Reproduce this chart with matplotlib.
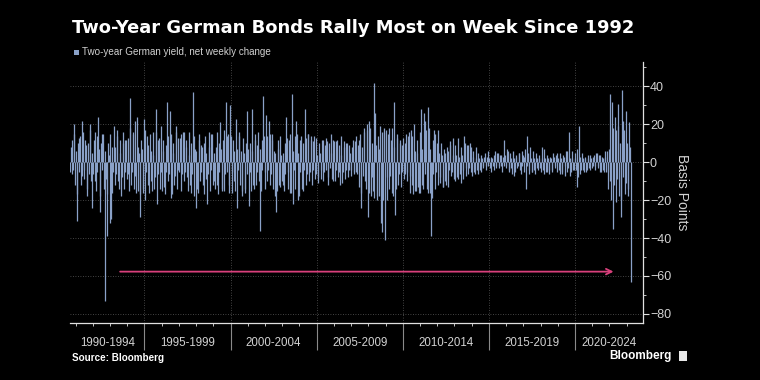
import numpy as np
import matplotlib
matplotlib.use('Agg')  # headless
import matplotlib.pyplot as plt
import matplotlib.transforms as mtransforms
from matplotlib.patches import Rectangle

# Two-year German yield, net weekly change (bp).
# Two readings per month from Sep 1990 to Mar 2023:
#   early_* = move in the first half of the month
#   late_*  = move in the second half (carries most spikes)
first_year, first_month = 1990, 9
late_1990s = [
    8, -6, 20, -12,
    -31, 10, 13, -12, 22, -9, 12, -14, 10, 20, -10, -24,
    12, -10, 14, 24, -26, 10, 15, -14, -73, -39, 10, -32,
    -30, 8, 19, -12, 14, -10, 12, -18, 10, -14, 12, -9,
    13, 34, -12, 15, -14, 22, 24, -15, -29, 12, -16, 23,
    -20, 14, -12, 15, -10, 16, -14, 28, -22, 12, -14, 19,
    12, -13, 9, 32, -10, 27, -19, 10, -12, 19, -14, 13,
    13, -15, 16, -10, 12, -8, 16, -12, 10, 37, -18, -24,
    -14, 12, -10, 9, -12, 10, -9, -22, 8, -15, 15, -12,
    -10, 8, -12, 10, 21, -14, 12, -15, 32, 14, -12, 30,
]
early_1990s = [
    -5, 12, -4, 15,
    6, -17, -5, 14, -7, 16, -4, 9, -18, -6, 17, 5,
    -6, 16, -15, -5, 7, -18, -4, 15, 6, -9, -17, 4,
    15, -16, -5, 8, -6, 17, -14, 5, -8, 16, -5, 12,
    -6, -15, 18, -5, 16, -7, -16, 8, 5, -17, 7, -14,
    17, -5, 9, -16, 6, -15, 4, -8, 16, -6, 13, -5,
    -15, 6, -17, -5, 14, -6, 15, -17, 5, -7, 16, -4,
    -5, 15, -6, 16, -5, 8, -15, 4, -16, -6, 14, 7,
    6, -16, 15, -5, 8, -17, 14, 5, -6, 16, -4, 15,
    5, -14, 16, -17, -5, 7, -15, 17, -6, -5, 15, -16,
]
late_2000s = [
    -16, 12, -10, 23, -24, 14, -12, -18, 13, -14, 10, 27,
    -23, 10, 28, -12, 12, -12, 9, -10, -36, 12, 35, -14,
    25, -10, 22, -12, 15, -14, -18, -26, 12, -12, 14, -10,
    -12, 10, 24, -14, 12, -16, 36, -22, 14, 22, -20, -18,
    12, -14, 10, 28, -12, 15, -10, 14, -12, 11, -9, 13,
    -8, 10, -9, 12, -10, 9, 13, -8, 10, 15, -9, 12,
    -10, 11, -8, 9, 14, -11, 8, -9, 10, -8, 9, -7,
    8, -6, 11, -5, 9, 12, -24, 8, 18, -10, 20, -29,
    22, -18, 10, 42, 26, -20, 14, -18, -32, -37, 16, -41,
    -20, 15, -14, 12, 18, 32, -28, 13, -12, 10, -13, 9,
]
early_2000s = [
    14, -5, 6, -15, 7, -4, 16, 6, -15, 5, -16, -6,
    7, -5, -15, 6, -14, 15, -5, 16, 7, -15, -4, 14,
    -5, 14, -4, 15, -6, 12, 6, 5, -15, 7, -13, 4,
    5, -15, -6, 13, -5, 15, -16, 6, -4, -14, 15, 5,
    -5, 14, -15, -4, 13, -6, 15, -5, 12, -4, 14, -6,
    4, -11, 5, -4, 12, -5, -4, 11, -12, -3, 5, -10,
    11, -4, 12, -5, -12, 4, -5, 11, -4, 10, -4, 5,
    -4, 12, -5, 14, -6, -13, 15, -16, -7, 16, -14, 17,
    -16, 18, -8, -15, -19, 9, -18, 7, 19, 16, -20, 18,
    17, -8, 18, -7, -16, -18, 8, -14, 15, -6, 12, -5,
]
late_2010s = [
    -9, 10, -10, 14, -16, 17, -12, 20, -15, 12, -13, 16,
    28, -12, 26, 22, -14, 29, -16, -39, 12, 17, -14, 10,
    17, -8, 10, -13, 7, -10, 8, -13, 9, -7, 13, -9,
    9, -8, 13, -6, 8, -9, 14, -7, 9, -6, 10, -5,
    6, -5, 8, -4, 5, -4, 4, -3, 3, -4, 3, -2,
    -3, 3, -2, 4, -3, 5, -3, 4, -2, 3, 12, -3,
    7, -4, 5, -3, 6, -7, 4, -3, 5, -4, 6, 4,
    -5, -14, 14, -4, 8, -5, 6, -4, 5, -3, 4, -3,
    8, -4, 7, -5, 4, -6, 3, -4, 5, -3, 4, -5,
    -4, 5, -6, 4, -7, 6, -5, 16, -7, 6, -4, 5,
]
early_2010s = [
    13, -6, 15, -5, 16, -7, 14, -17, 6, -15, 5, -16,
    -16, 7, -14, -6, 17, -16, 18, 7, -19, -6, 15, -5,
    -12, 5, -11, 4, -13, 5, -12, 6, -4, 11, -5, 4,
    -10, 4, -9, 3, -11, 4, -4, 10, -3, 9, -3, 8,
    -7, 3, -6, 2, -6, 2, -5, 2, -2, 5, -2, 6,
    2, -5, 2, -4, 6, -2, 5, -2, 4, -5, -2, 4,
    -2, 6, -5, 2, -6, 2, -5, 3, -2, 5, -6, -2,
    3, 7, -2, 5, -6, 2, -5, 2, -6, 2, -4, 2,
    -5, 2, -6, 2, -5, 2, -4, 2, -5, 3, -2, 5,
    2, -6, 2, -5, 3, -2, 6, -3, 2, -5, 2, -4,
]
late_2020s = [
    -4, -13, 19, -6, 5, -4, 3, -5, 4, -3, 4, -3,
    3, -4, 5, -3, 4, -5, 3, -4, 6, -5, -14, 7,
    36, 32, -35, 24, -21, 31, -18, -29, 38, 22, -17, 27,
    -18, 21, -63,
]
early_2020s = [
    2, 7, -8, 3, -4, 2, -5, 2, -4, 2, -4, 2,
    -2, 4, -2, 5, -2, 4, -5, 2, -5, 3, 6, -5,
    -10, -20, 18, -12, 17, -9, 19, 10, -20, -8, 17, -11,
    10, -14, 8,
]

period_labels = ['1990-1994', '1995-1999', '2000-2004', '2005-2009',
                 '2010-2014', '2015-2019', '2020-2024']
period_starts = [1990, 1995, 2000, 2005, 2010, 2015, 2020]
y_ticks = [-80, -60, -40, -20, 0, 20, 40]
arrow_from, arrow_to, arrow_level = 1993.43, 2022.4, -57.7

late = np.array(late_1990s + late_2000s + late_2010s + late_2020s, dtype=float)
early = np.array(early_1990s + early_2000s + early_2010s + early_2020s, dtype=float)
changes = np.column_stack([early, late]).ravel()
start = first_year + (first_month - 1) / 12
t = start + (np.arange(len(changes)) + 0.5) / 24

bar_color = '#8aa1c8'
grid_color = '#5a5a5a'
text_color = '#d2d2d2'
plt.rcParams['font.family'] = ['Liberation Sans', 'DejaVu Sans']

fig = plt.figure(figsize=(7.6, 3.8), dpi=100, facecolor='black')
ax = fig.add_axes([70 / 760, 1 - 323 / 380, 573 / 760, 261 / 380], facecolor='black')

ax.vlines(t, 0, changes, color=bar_color, linewidth=0.9, zorder=3)

ax.set_xlim(1990.68, 2023.95)
ax.set_ylim(-84.8, 52.9)

# axes look
for s in ['top', 'left']:
    ax.spines[s].set_visible(False)
for s in ['right', 'bottom']:
    ax.spines[s].set_color('#e0e0e0')
    ax.spines[s].set_linewidth(0.9)

ax.yaxis.tick_right()
ax.yaxis.set_label_position('right')
ax.set_yticks(y_ticks)
ax.set_yticks(np.arange(-80, 51, 10), minor=True)
ax.tick_params(axis='y', which='major', colors='#e0e0e0', labelcolor=text_color,
               labelsize=9, length=4, width=0.8, pad=1)
ax.tick_params(axis='y', which='minor', colors='#e0e0e0', length=2.5, width=0.6)
ax.set_ylabel('Basis Points', color=text_color, fontsize=10, rotation=-90, labelpad=13)

ax.set_xticks(period_starts[1:])
ax.set_xticks(np.arange(1991, 2024), minor=True)
ax.tick_params(axis='x', which='major', colors='#8a8a8a', length=19.5, width=0.8,
               labelbottom=False)
ax.tick_params(axis='x', which='minor', colors='#e0e0e0', length=2.2, width=0.6)

ax.grid(True, which='major', color=grid_color, linestyle=(0, (1, 2)), linewidth=0.6, zorder=0)

# period labels centred in each segment
trans = mtransforms.blended_transform_factory(ax.transData, ax.transAxes)
xmin, xmax = ax.get_xlim()
for lab, s0 in zip(period_labels, period_starts):
    c = (max(s0, xmin) + min(s0 + 5, xmax)) / 2
    ax.text(c, -0.075, lab, transform=trans, ha='center', va='center',
            color=text_color, fontsize=8.3)

# arrow pointing to the latest week
ax.annotate('', xy=(arrow_to, arrow_level), xytext=(arrow_from, arrow_level),
            arrowprops=dict(arrowstyle='->', color='#d9407c', lw=1.3,
                            mutation_scale=10), zorder=4)

# title, legend, footer
fig.text(72 / 760, 1 - 28 / 380, 'Two-Year German Bonds Rally Most on Week Since 1992',
         color='white', fontsize=12.9, fontweight='bold', va='center', ha='left',
         family='DejaVu Sans')
fig.patches.append(Rectangle((74 / 760, 1 - 55 / 380), 5 / 760, 5 / 380,
                             transform=fig.transFigure, facecolor=bar_color, edgecolor='none'))
fig.text(82 / 760, 1 - 52 / 380, 'Two-year German yield, net weekly change',
         color=text_color, fontsize=7.1, va='center', ha='left')
fig.text(72 / 760, 1 - 358 / 380, 'Source: Bloomberg', color='white',
         fontsize=7.1, fontweight='bold', va='center', ha='left')
fig.text(672 / 760, 1 - 356 / 380, 'Bloomberg', color='white',
         fontsize=8.5, fontweight='bold', va='center', ha='right')
fig.patches.append(Rectangle((679 / 760, 1 - 361 / 380), 8 / 760, 10 / 380,
                             transform=fig.transFigure, facecolor='#e8e8e8', edgecolor='none'))

fig.savefig('out.png', dpi=100, facecolor='black')
